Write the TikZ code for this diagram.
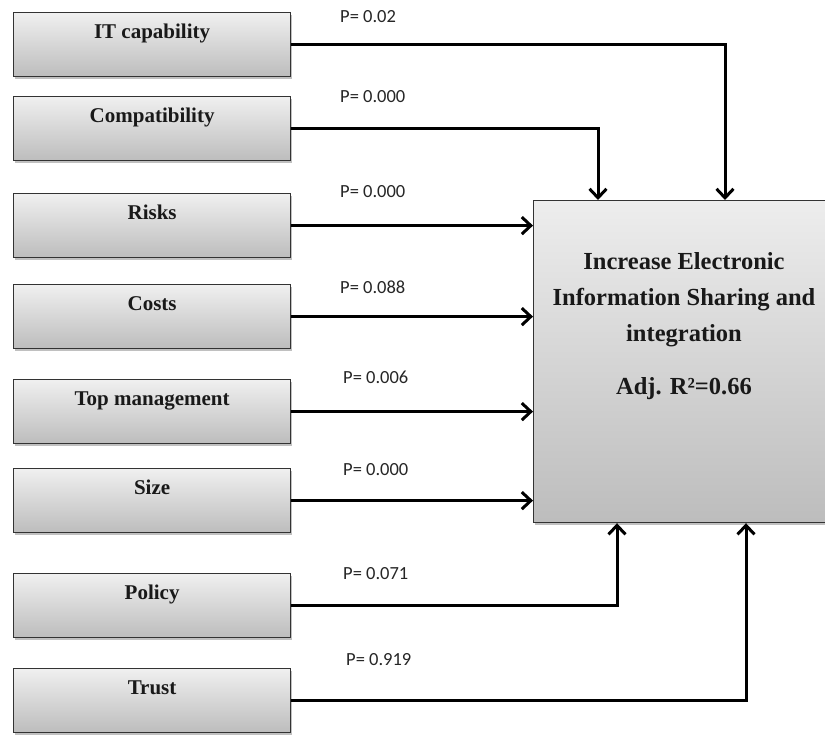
\documentclass[tikz,border=0pt]{standalone}
\usepackage{fontspec}
\setmainfont{Liberation Serif}
\newfontfamily\pfont{Carlito}
\usetikzlibrary{arrows.meta,shadows}
\begin{document}
\begin{tikzpicture}[x=1pt,y=-1pt,
  lbox/.style={draw=black!80, line width=1.2pt, top color=black!6, bottom color=black!26,
    minimum width=277pt, minimum height=64pt, inner sep=0pt, text height=26pt, text depth=38pt,
    anchor=north west, font=\fontsize{21}{24}\selectfont\bfseries, text=black!90,
    drop shadow={shadow xshift=1.5pt, shadow yshift=-2pt, opacity=0.35, fill=black!70}},
  bigbox/.style={draw=black!80, line width=1.2pt, top color=black!7, bottom color=black!26,
    inner sep=0pt, anchor=north west,
    drop shadow={shadow xshift=1.5pt, shadow yshift=-2pt, opacity=0.35, fill=black!70}},
  plab/.style={anchor=west, inner sep=0pt, font=\pfont\fontsize{18.5}{20}\selectfont, text=black!85},
  arr/.style={line width=3pt, -{Straight Barb[length=9pt, width=17pt]}}]
\useasboundingbox (0,0) rectangle (825,736);
\clip (0,0) rectangle (825,736);
\fill[white] (0,0) rectangle (825,736);

% predictor boxes
\node[lbox] (it)     at (13,12)  {IT capability};
\node[lbox] (comp)   at (13,96)  {Compatibility};
\node[lbox] (risks)  at (13,193) {Risks};
\node[lbox] (costs)  at (13,284) {Costs};
\node[lbox] (top)    at (13,379) {Top management};
\node[lbox] (size)   at (13,468) {Size};
\node[lbox] (policy) at (13,573) {Policy};
\node[lbox] (trust)  at (13,668) {Trust};

% outcome box
\node[bigbox, minimum width=300pt, minimum height=322pt] (dv) at (533,200) {};
\node[align=center, inner sep=0pt, text=black!90, font=\fontsize{24.5}{36}\selectfont\bfseries] (dvtext) at (684,326)
  {Increase Electronic\\Information Sharing and\\integration\\[17pt]Adj. R²=0.66};

% entry points on the outcome box
\path (dv.north west) ++(192,0) coordinate (in1);
\path (dv.north west) ++(65,0) coordinate (in2);
\path (dv.south west) ++(84,0) coordinate (in7);
\path (dv.south west) ++(213,0) coordinate (in8);

% connectors
\draw[arr] (it.east) -| (in1);
\draw[arr] (comp.east) -| (in2);
\draw[arr] (risks.east) -- (risks.east -| dv.west);
\draw[arr] (costs.east) -- (costs.east -| dv.west);
\draw[arr] (top.east) -- (top.east -| dv.west);
\draw[arr] (size.east) -- (size.east -| dv.west);
\draw[arr] (policy.east) -| (in7);
\draw[arr] (trust.east) -| (in8);

% p-values
\node[plab] (p1) at (340,17)  {P= 0.02};
\node[plab] (p2) at (340,97)  {P= 0.000};
\node[plab] (p3) at (340,192) {P= 0.000};
\node[plab] (p4) at (340,287) {P= 0.088};
\node[plab] (p5) at (343,377) {P= 0.006};
\node[plab] (p6) at (343,470) {P= 0.000};
\node[plab] (p7) at (343,574) {P= 0.071};
\node[plab] (p8) at (346,660) {P= 0.919};
\end{tikzpicture}
\end{document}
